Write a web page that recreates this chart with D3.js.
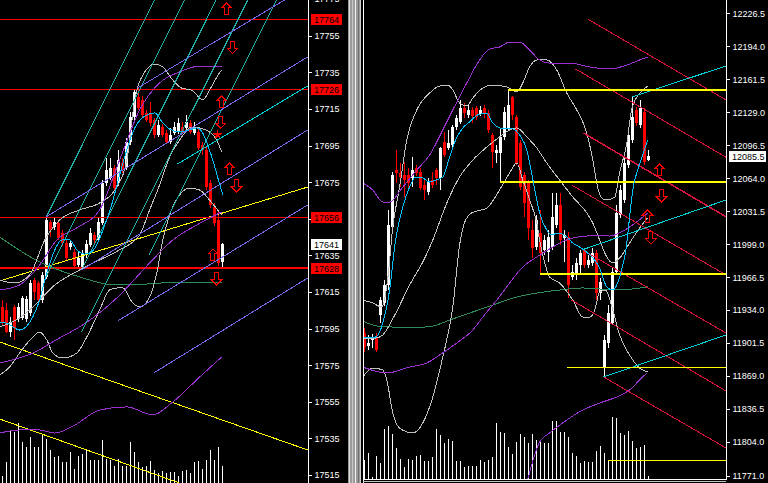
<!DOCTYPE html>
<html><head><meta charset="utf-8">
<script src="https://cdn.jsdelivr.net/npm/d3@7"></script>
<style>
html,body{margin:0;padding:0;background:#000;overflow:hidden}
svg{display:block;shape-rendering:crispEdges}
</style></head><body>
<svg id="c" width="768" height="483"></svg>
<script>
// ---------------- LEFT PANEL DATA ----------------
const leftOpen = [17606.9,17605.2,17593.2,17606.9,17600.3,17600.9,17600.3,17603.6,17621.6,17620.0,17610.7,17623.3,17653.3,17650.6,17652.7,17647.3,17641.8,17639.6,17636.9,17629.8,17628.7,17635.3,17640.7,17646.2,17643.5,17652.7,17674.6,17677.3,17682.8,17674.6,17685.5,17683.3,17697.0,17710.6,17721.5,17719.9,17712.8,17712.8,17709.0,17700.8,17705.2,17701.9,17697.0,17701.9,17702.4,17705.2,17704.6,17707.3,17701.9,17702.4,17695.3,17692.6,17674.6,17661.5,17654.4,17631.4];
const leftHigh = [17610.7,17609.1,17601.4,17608.0,17609.1,17612.9,17612.9,17621.6,17622.7,17621.1,17626.0,17655.5,17654.4,17655.5,17654.4,17648.9,17643.5,17643.5,17638.5,17636.9,17638.0,17643.5,17650.0,17647.8,17655.5,17676.2,17688.2,17688.2,17684.4,17692.6,17688.2,17699.2,17713.3,17725.4,17726.5,17722.1,17714.4,17718.8,17710.1,17709.0,17706.8,17703.5,17704.6,17707.9,17710.1,17707.9,17711.7,17709.0,17707.9,17704.6,17697.0,17694.2,17676.2,17663.7,17659.8,17641.8];
const leftLow = [17597.0,17592.7,17590.5,17588.9,17598.7,17599.8,17598.7,17602.0,17610.7,17609.6,17609.1,17622.2,17645.1,17648.9,17643.5,17640.2,17632.0,17638.0,17628.2,17628.2,17627.6,17633.6,17639.6,17641.3,17642.4,17651.7,17672.9,17676.2,17670.8,17672.9,17680.0,17681.7,17695.3,17709.0,17714.4,17710.1,17707.9,17705.7,17699.2,17699.7,17699.7,17695.9,17695.9,17700.8,17701.3,17701.3,17703.5,17701.3,17700.8,17692.6,17689.9,17670.8,17661.0,17651.1,17629.3,17628.0];
const leftClose = [17598.7,17593.2,17598.7,17595.4,17606.9,17611.8,17611.3,17620.0,17615.1,17610.7,17624.3,17654.4,17648.9,17653.3,17644.6,17641.8,17633.6,17641.8,17629.3,17633.6,17636.4,17641.3,17647.3,17643.5,17653.3,17674.6,17681.7,17682.8,17671.9,17687.1,17681.7,17697.0,17710.6,17724.3,17715.5,17711.7,17709.0,17707.3,17700.8,17706.3,17700.8,17697.0,17700.8,17705.2,17707.3,17702.4,17707.9,17702.4,17705.2,17693.7,17692.6,17672.4,17662.6,17652.7,17630.9,17641.0];
const leftVolume = [63,203,530,503,597,403,357,453,357,353,487,440,323,257,270,203,203,303,137,263,290,323,223,223,223,423,237,223,170,237,170,163,403,303,203,157,170,213,130,97,113,97,107,107,63,113,130,97,207,213,137,223,330,230,353,163];
const leftTicks = [17775,17755,17735,17715,17695,17675,17655,17635,17615,17595,17575,17555,17535,17515];
const leftLevels = [17764,17726,17656,17628];
const leftLast = 17641;

// indicator samples [bar, price]
const leftFastMA = [[-0.6,17598.6],[1.2,17598.0],[4.4,17594.2],[7.7,17601.3],[9.4,17610.6],[11.2,17625.4],[13.2,17638.0],[14.9,17643.4],[16.9,17643.4],[18.7,17638.0],[20.7,17635.7],[22.4,17636.8],[23.9,17641.7],[25.7,17651.6],[27.4,17662.5],[29.4,17678.9],[31.2,17692.6],[33.2,17704.6],[36.2,17711.7],[38.2,17712.8],[40.2,17707.3],[41.9,17704.0],[44.4,17702.4],[46.9,17703.5],[48.7,17704.6],[50.2,17701.8],[51.4,17695.3],[52.7,17687.1],[53.9,17677.8],[55.2,17668.0]];
const leftPurpleUp = [[-0.6,17616.1],[4.4,17618.8],[9.4,17629.7],[13.7,17643.4],[18.7,17650.0],[24.4,17659.8],[29.4,17687.1],[34.4,17714.4],[39.4,17729.2],[44.4,17735.2],[49.4,17738.4],[54.9,17737.9]];
const leftPurpleMid = [[-0.6,17576.2],[7.7,17581.6],[14.4,17589.9],[20.2,17597.0],[28.7,17611.7],[36.9,17630.8],[42.7,17643.4],[48.7,17651.6],[54.9,17658.7]];
const leftPurpleLow = [[-0.6,17537.9],[4.4,17539.6],[9.4,17539.6],[13.2,17537.9],[18.2,17542.3],[24.4,17550.5],[31.2,17552.2],[37.7,17547.8],[42.7,17554.9],[49.4,17568.5],[54.9,17579.5]];
const leftGreen = [[-0.6,17645.0],[9.4,17631.4],[19.4,17623.2],[28.2,17618.8],[36.9,17619.4],[43.7,17620.4],[54.9,17620.4]];
const leftGrayUp = [[-0.6,17621.5],[3.2,17619.9],[6.9,17624.3],[10.7,17643.4],[14.4,17654.3],[19.4,17659.8],[24.4,17663.6],[28.2,17670.7],[31.2,17687.1],[33.2,17719.9],[35.7,17735.2],[38.2,17739.5],[40.2,17737.9],[42.7,17730.8],[44.9,17726.4],[47.4,17725.3],[50.2,17719.9],[51.9,17725.3],[53.7,17732.4],[54.9,17736.3]];
const leftGrayMid = [[-0.6,17595.9],[4.4,17600.8],[7.7,17606.8],[13.2,17618.8],[19.4,17627.0],[24.4,17632.5],[29.4,17638.0],[34.4,17646.1],[36.9,17659.8],[39.4,17673.4],[41.9,17688.7],[44.4,17698.0],[47.4,17705.1],[49.4,17704.6],[51.9,17702.4],[53.7,17698.0],[54.9,17691.5]];
const leftGrayLow = [[-0.6,17569.6],[1.9,17574.0],[4.4,17581.6],[7.7,17590.4],[9.4,17593.1],[11.2,17588.8],[12.7,17581.6],[15.2,17578.9],[18.7,17581.6],[21.2,17590.4],[24.4,17605.1],[26.9,17616.1],[28.9,17617.2],[30.2,17617.2],[32.7,17609.0],[34.4,17606.8],[36.9,17612.2],[38.7,17625.4],[40.2,17643.4],[41.9,17657.0],[44.4,17668.0],[46.9,17671.8],[49.4,17670.7],[51.9,17665.2],[54.9,17657.0]];
// trend lines [[bar,price],[bar,price]]
const leftSeaLines = [[[11.1,17656.1],[39.4,17780]],[[10.8,17622.1],[46.9,17780]],[[20.1,17628.1],[54.8,17780]],[[19.9,17593.1],[62.7,17780]],[[36.8,17635.2],[69.9,17780]]];
const leftSlateLines = [[[33.9,17726.4],[76.4,17782.1]],[[11.1,17656.1],[76.4,17743.4]],[[19.9,17627.0],[76.4,17703.5]],[[28.9,17599.1],[76.4,17662.5]],[[37.9,17570.7],[76.4,17622.6]]];
const leftTurqLine = [[43.9,17684.9],[76.4,17727.5]];
const leftYellowLines = [[[-0.6,17621.0],[76.4,17672.3]],[[-0.6,17587.7],[76.4,17528.7]],[[-0.6,17545.6],[76.4,17485.7]]];
const leftArrowsUp = [[56.1,17769.6],[54.9,17718.8],[56.9,17682.2],[52.7,17635.2]];
const leftArrowsDown = [[57.6,17748.5],[54.7,17707.6],[58.6,17672.9],[53.6,17622.1]];
const leftStar = [53.9,17700.8];

// ---------------- RIGHT PANEL DATA ----------------
const rightOpen = [11911.4,11898.6,11904.5,11906.5,11929.2,11941.0,11958.7,12015.9,12072.1,12069.1,12067.1,12067.1,12064.2,12074.0,12070.1,12057.3,12050.4,12062.2,12072.1,12064.2,12099.7,12093.7,12096.7,12114.4,12119.4,12133.2,12126.3,12131.2,12133.2,12127.3,12133.2,12128.2,12106.6,12088.8,12088.8,12104.6,12113.5,12144.0,12124.3,12098.7,12067.1,12060.2,12012.9,11996.2,12010.0,11993.2,11991.3,11996.2,12017.9,12037.6,12005.1,12006.0,11966.6,11970.6,11978.4,11993.2,11978.4,11980.4,11990.3,11950.8,11876.9,11901.6,11921.3,11971.5,12027.7,12042.5,12077.0,12101.6,12131.2,12116.4,12129.2,12081.9];
const rightHigh = [11916.4,11909.5,11910.4,11911.4,11946.9,11963.7,12032.7,12070.1,12091.8,12078.9,12079.9,12074.0,12084.9,12077.0,12074.0,12062.2,12064.2,12070.1,12074.0,12094.7,12109.5,12111.5,12116.4,12126.3,12141.1,12138.1,12136.1,12134.1,12135.1,12135.1,12136.1,12131.2,12108.5,12096.7,12113.5,12134.1,12150.9,12145.0,12126.3,12101.6,12070.1,12062.2,12022.8,12027.7,12032.7,12008.0,12012.9,12049.4,12049.4,12049.4,12012.9,12011.0,11978.4,11985.3,11993.2,11995.2,11988.3,11995.2,11993.2,11965.6,11909.5,11939.0,11975.5,12037.6,12057.3,12083.9,12111.5,12144.0,12134.1,12141.1,12133.2,12091.8];
const rightLow = [11892.7,11894.7,11896.6,11892.7,11921.3,11938.0,11953.8,12014.9,12059.2,12055.3,12045.5,12052.4,12055.3,12066.2,12052.4,12042.5,12047.4,12054.3,12057.3,12052.4,12084.9,12091.8,12094.7,12111.5,12117.4,12123.3,12123.3,12118.4,12121.3,12125.3,12123.3,12108.5,12074.0,12078.9,12060.2,12101.6,12111.5,12121.3,12077.0,12052.4,12025.7,12003.1,11985.3,11993.2,11969.6,11988.3,11981.4,11993.2,12014.9,11998.2,11981.4,11945.9,11963.7,11963.7,11968.6,11975.5,11975.5,11977.5,11943.9,11943.9,11869.0,11896.6,11919.3,11968.6,12024.8,12039.5,12074.0,12098.7,12115.4,12113.5,12077.0,12080.9];
const rightClose = [11897.6,11901.6,11906.5,11894.7,11943.9,11958.7,12017.9,12067.1,12069.1,12065.2,12062.2,12059.2,12072.1,12069.1,12054.3,12052.4,12060.2,12057.3,12064.2,12093.7,12086.8,12098.7,12114.4,12123.3,12133.2,12128.2,12131.2,12125.3,12124.3,12131.2,12127.3,12111.5,12089.8,12091.8,12104.6,12129.2,12136.1,12126.3,12078.9,12055.3,12039.5,12014.9,11995.2,12022.8,11990.3,12003.1,12006.0,12025.7,12037.6,12003.1,12008.0,11958.7,11971.5,11980.4,11990.3,11978.4,11983.4,11990.3,11950.8,11961.7,11904.5,11931.1,11971.5,12029.7,12052.4,12078.9,12106.6,12124.3,12118.4,12133.2,12079.9,12085.5];
const rightVolume = [193,260,20,233,166,500,533,453,310,200,120,200,193,233,243,186,186,220,500,443,366,403,383,186,186,120,133,133,133,193,176,193,220,566,476,460,320,253,376,453,420,366,453,393,383,366,366,583,583,470,470,420,266,233,166,186,176,176,286,333,266,193,620,610,460,443,483,386,310,326,343,33];
const rightTicks = [12226.5,12194.0,12161.5,12129.0,12096.5,12064.0,12031.5,11999.0,11966.5,11934.0,11901.5,11869.0,11836.5,11804.0,11771.0];
const rightLast = 12085.5;

const rightFastMA = [[-0.3,11906.5],[2.9,11907.5],[4.7,11921.3],[6.4,11953.8],[7.9,12003.1],[9.7,12035.6],[11.4,12055.3],[12.9,12065.2],[14.7,12064.2],[16.4,12060.2],[17.9,12062.2],[19.7,12065.2],[21.4,12084.9],[22.9,12101.6],[24.7,12113.5],[26.4,12119.4],[28.4,12126.3],[30.7,12128.2],[32.2,12118.4],[33.9,12113.5],[35.7,12112.5],[37.2,12112.5],[38.9,12106.6],[40.7,12091.8],[41.9,12069.1],[42.7,12052.4],[43.9,12029.7],[45.7,12012.9],[46.9,12008.0],[48.4,12010.0],[50.7,12006.0],[52.2,12000.1],[53.9,11996.2],[55.9,11990.3],[58.9,11975.5],[60.7,11956.8],[62.2,11953.8],[63.9,11966.6],[65.7,12000.1],[66.4,12025.7],[67.2,12052.4],[68.4,12072.1],[69.7,12086.8],[70.9,12101.6]];
const rightGrayUp = [[-0.3,11943.9],[2.2,11941.0],[4.4,11937.1],[5.9,11963.7],[7.2,12015.9],[8.9,12055.3],[10.7,12101.6],[13.2,12131.2],[16.4,12147.9],[18.9,12154.8],[20.9,12155.8],[22.2,12150.9],[23.9,12138.1],[25.7,12135.1],[27.2,12143.0],[29.7,12152.9],[32.2,12155.8],[35.7,12153.9],[38.2,12148.9],[39.7,12157.8],[41.4,12173.6],[43.2,12180.5],[45.7,12180.5],[48.2,12170.6],[50.7,12147.9],[53.2,12131.2],[55.7,12108.5],[57.2,12081.9],[58.4,12055.3],[59.4,12044.5],[60.7,12042.5],[62.7,12045.5],[63.9,12069.1],[65.7,12098.7],[66.9,12131.2],[68.2,12144.0],[69.7,12150.9],[70.9,12154.8]];
const rightGrayMid = [[-0.3,11906.5],[2.9,11906.5],[4.7,11909.5],[7.7,11929.2],[11.4,11958.7],[15.2,11985.3],[17.2,12003.1],[20.7,12039.5],[23.9,12065.2],[27.2,12081.9],[30.7,12094.7],[33.9,12104.6],[36.4,12111.5],[38.2,12113.5],[40.7,12104.6],[43.2,12093.7],[45.7,12078.9],[48.9,12062.2],[52.2,12045.5],[55.7,12029.7],[57.2,12019.8],[58.9,12003.1],[60.7,11986.3],[62.2,11980.4],[63.9,11985.3],[66.4,12000.1],[68.9,12014.9],[70.9,12024.8]];
const rightGrayLow = [[-0.3,11868.1],[2.2,11876.9],[4.7,11875.0],[5.7,11865.1],[7.2,11832.6],[8.9,11817.8],[12.2,11812.9],[16.4,11838.5],[19.7,11887.8],[22.2,11937.1],[23.9,11998.2],[25.2,12020.8],[26.9,12029.7],[30.7,12034.6],[33.9,12052.4],[36.4,12069.1],[38.2,12078.9],[39.7,12062.2],[41.4,12042.5],[43.2,12019.8],[43.9,12003.1],[45.2,11980.4],[46.4,11966.6],[48.9,11960.7],[52.2,11943.9],[54.7,11927.2],[56.4,11927.2],[57.7,11934.1],[58.9,11951.8],[60.4,11953.8],[62.2,11934.1],[63.9,11909.5],[66.4,11889.7],[68.9,11876.9],[70.9,11873.0]];
const rightPurpleUp = [[-0.3,12059.2],[2.2,12052.4],[4.7,12040.5],[6.4,12040.5],[9.7,12055.3],[13.2,12072.1],[16.4,12086.8],[19.7,12111.5],[22.2,12131.2],[25.7,12157.8],[28.9,12180.5],[31.4,12191.3],[33.9,12193.3],[36.4,12198.2],[38.9,12198.2],[41.4,12190.3],[43.9,12180.5],[46.4,12177.5],[51.4,12177.5],[56.4,12173.6],[61.4,12171.6],[65.7,12175.5],[68.9,12180.5],[70.9,12183.4]];
const rightPurpleMid = [[-0.3,11877.9],[5.7,11872.0],[11.4,11877.9],[15.7,11881.9],[18.9,11889.7],[23.2,11901.6],[27.2,11914.4],[29.7,11927.2],[33.2,11943.9],[36.4,11960.7],[39.7,11976.5],[43.2,11986.3],[47.2,11996.2],[48.9,12000.1],[52.2,12005.1],[55.7,12007.0],[58.9,12008.0],[61.4,12007.0],[66.4,12015.9],[69.7,12025.7],[70.9,12029.7]];
const rightPurpleLow = [[40.9,11766.6],[43.9,11804.0],[46.4,11812.9],[50.7,11825.7],[54.7,11835.5],[58.9,11842.4],[63.2,11848.4],[66.4,11855.2],[68.9,11865.1],[70.7,11872.0]];
const rightGreen = [[-0.3,11923.3],[3.2,11918.3],[7.2,11917.3],[11.4,11916.4],[17.2,11918.3],[21.4,11924.2],[26.4,11931.1],[32.2,11939.0],[38.2,11946.9],[43.2,11950.8],[48.9,11953.8],[54.7,11955.8],[63.2,11953.8],[70.9,11956.8]];
const rightCrimsonLines = [[[55.9,12220.9],[90.5,12141.1]],[[52.9,12171.6],[90.5,12084.6]],[[54.9,12108.5],[90.5,12026.0]],[[51.9,12057.3],[90.5,11968.6]],[[54.7,11993.2],[90.5,11911.4]],[[51.9,11943.9],[90.5,11854.3]],[[59.9,11868.1],[90.5,11798.1]]];
const rightTurqLines = [[[66.9,12144.0],[90.5,12174.6]],[[54.4,11993.2],[90.5,12042.5]],[[59.9,11868.1],[90.5,11909.5]]];
const rightYellowLevels = [[36,12150.9,2],[34,12060.2,2],[44,11969.6,2],[50.85,11877.9,1],[60.9,11786.3,1]];
const rightArrowsUp = [[73.9,12072.1],[70.9,12026.7]];
const rightArrowsDown = [[74.4,12046.5],[71.7,12005.1]];

// ---------------- DRAWING ----------------
const svg = d3.select('#c');
svg.append('rect').attr('width',768).attr('height',483).attr('fill','#000');
const defs = svg.append('defs');
defs.append('clipPath').attr('id','clipL').append('rect').attr('x',0).attr('y',0).attr('width',308).attr('height',483);
defs.append('clipPath').attr('id','clipR').append('rect').attr('x',364).attr('y',0).attr('width',362).attr('height',479);

const xL = d3.scaleLinear().domain([0,55]).range([2,222]);
const yL = d3.scaleLinear().domain([17515,17755]).range([475,35.7]);
const xR = d3.scaleLinear().domain([0,71]).range([364,648]);
const yR = d3.scaleLinear().domain([11771,12226.5]).range([475.5,13.3]);
const vL = d3.scaleLinear().domain([0,1000]).range([482.5,382.5]);
const vR = d3.scaleLinear().domain([0,1000]).range([479.3,379.3]);
const GRAY = '#c0c0c0';

function path(g, pts, x, y, color, w, smooth){
  const ln = d3.line().x(d=>x(d[0])).y(d=>y(d[1]));
  if(smooth) ln.curve(d3.curveMonotoneX);
  g.append('path').attr('d', ln(pts)).attr('fill','none').attr('stroke',color).attr('stroke-width',w||1);
}
function candles(g, O,H,L,C, x, y){
  O.forEach((o,i)=>{
    const c=C[i], up=c>=o, col=up?'#ffffff':'#ff0000';
    const cx=Math.round(x(i));
    g.append('rect').attr('x',cx).attr('y',y(H[i])).attr('width',1).attr('height',Math.max(1,y(L[i])-y(H[i]))).attr('fill',col);
    const top=Math.round(y(Math.max(o,c))), bot=Math.round(y(Math.min(o,c)));
    g.append('rect').attr('x',cx-1).attr('y',top).attr('width',3).attr('height',Math.max(1,bot-top)).attr('fill',col);
  });
}
function volumes(g, V, x, v){
  V.forEach((d,i)=>{
    const cx=Math.round(x(i));
    g.append('rect').attr('x',cx).attr('y',v(d)).attr('width',1).attr('height',v(0)-v(d)).attr('fill','#ffffff');
  });
}
function arrow(g, cx, cy, up){
  const s = up?1:-1;
  const p = [[0,-6],[5,-1],[2,-1],[2,6],[-2,6],[-2,-1],[-5,-1]].map(d=>[cx+d[0], cy+d[1]*s]);
  g.append('path').attr('d','M'+p.join('L')+'Z').attr('fill','none').attr('stroke','#ff0000').attr('stroke-width',1);
}

// ---- left panel
const gL = svg.append('g').attr('clip-path','url(#clipL)');
candles(gL, leftOpen, leftHigh, leftLow, leftClose, xL, yL);
volumes(gL, leftVolume, xL, vL);
leftYellowLines.forEach(l=>path(gL,l,xL,yL,'#ffff00',1));
leftLevels.forEach((p,k)=>gL.append('rect').attr('x',0).attr('width',308).attr('y',Math.round(yL(p))-(k===3?1:0)).attr('height',k===3?2:1).attr('fill','#ff0000'));
path(gL,leftGreen,xL,yL,'#2e8b57',1,true);
path(gL,leftGrayUp,xL,yL,GRAY,1,true);
path(gL,leftGrayMid,xL,yL,GRAY,1,true);
path(gL,leftGrayLow,xL,yL,GRAY,1,true);
path(gL,leftPurpleUp,xL,yL,'#9932cc',1,true);
path(gL,leftPurpleMid,xL,yL,'#9932cc',1,true);
path(gL,leftPurpleLow,xL,yL,'#9932cc',1,true);
leftSeaLines.forEach(l=>path(gL,l,xL,yL,'#20b2aa',1));
leftSlateLines.forEach(l=>path(gL,l,xL,yL,'#7b68ee',1));
path(gL,leftTurqLine,xL,yL,'#00ced1',1);
path(gL,leftFastMA,xL,yL,'#00bfff',1,true);
leftArrowsUp.forEach(d=>arrow(gL,xL(d[0]),yL(d[1]),true));
leftArrowsDown.forEach(d=>arrow(gL,xL(d[0]),yL(d[1]),false));
gL.append('path').attr('d',d3.symbol(d3.symbolStar,28)()).attr('transform',`translate(${xL(leftStar[0])},${yL(leftStar[1])})`).attr('fill','#ff0000');

// left axis
svg.append('rect').attr('x',308).attr('y',0).attr('width',1).attr('height',483).attr('fill','#ffffff');
const axL = svg.append('g').attr('transform','translate(308.5,0)')
  .call(d3.axisRight(yL).tickValues(leftTicks).tickFormat(d3.format('d')).tickSize(3).tickPadding(3).tickSizeOuter(0));
axL.select('.domain').remove();
axL.selectAll('line').attr('stroke','#fff');
axL.selectAll('text').attr('fill','#fff').attr('font-family','Liberation Sans, Arial, sans-serif').attr('font-size',9);

function priceBox(x, y, w, txt, bg, fg){
  svg.append('rect').attr('x',x).attr('y',Math.round(y)-5).attr('width',w).attr('height',11).attr('fill',bg);
  svg.append('text').attr('x',x+3).attr('y',Math.round(y)+3.5).attr('fill',fg).attr('font-family','Liberation Sans, Arial, sans-serif').attr('font-size',9).text(txt);
}
leftLevels.forEach(p=>priceBox(311, yL(p), 31, d3.format('d')(p), '#ff0000', '#000000'));
priceBox(311, yL(leftLast), 31, d3.format('d')(leftLast), '#ffffff', '#000000');

// separator
svg.append('rect').attr('x',348).attr('y',0).attr('width',13).attr('height',483).attr('fill','#9a9a9a');
[[349,'#e0e0e0'],[352,'#c8c8c8'],[355,'#f0f0f0'],[358,'#707070'],[360,'#d0d0d0']].forEach(d=>svg.append('rect').attr('x',d[0]).attr('y',0).attr('width',1).attr('height',483).attr('fill',d[1]));
svg.append('rect').attr('x',363).attr('y',0).attr('width',1).attr('height',483).attr('fill','#ffffff');

// ---- right panel
const gR = svg.append('g').attr('clip-path','url(#clipR)');
candles(gR, rightOpen, rightHigh, rightLow, rightClose, xR, yR);
volumes(gR, rightVolume, xR, vR);
path(gR,rightGreen,xR,yR,'#2e8b57',1,true);
path(gR,rightGrayUp,xR,yR,GRAY,1,true);
path(gR,rightGrayMid,xR,yR,GRAY,1,true);
path(gR,rightGrayLow,xR,yR,GRAY,1,true);
path(gR,rightPurpleUp,xR,yR,'#9932cc',1,true);
path(gR,rightPurpleMid,xR,yR,'#9932cc',1,true);
path(gR,rightPurpleLow,xR,yR,'#9932cc',1,true);
rightCrimsonLines.forEach((l,k)=>path(gR,l,xR,yR,'#dc143c',k===2?1.5:1));
rightTurqLines.forEach(l=>path(gR,l,xR,yR,'#00ced1',1));
rightYellowLevels.forEach(d=>gR.append('rect').attr('x',Math.round(xR(d[0]))).attr('width',726-Math.round(xR(d[0]))).attr('y',Math.round(yR(d[1]))-(d[2]>1?1:0)).attr('height',d[2]).attr('fill','#ffff00'));
path(gR,rightFastMA,xR,yR,'#00bfff',1,true);
rightArrowsUp.forEach(d=>arrow(gR,xR(d[0]),yR(d[1]),true));
rightArrowsDown.forEach(d=>arrow(gR,xR(d[0]),yR(d[1]),false));

// bottom lines
svg.append('rect').attr('x',363).attr('y',479).attr('width',363).attr('height',1).attr('fill','#ffffff');
svg.append('rect').attr('x',363).attr('y',481).attr('width',363).attr('height',1).attr('fill','#c0c0c0');

// right axis
svg.append('rect').attr('x',726).attr('y',0).attr('width',1).attr('height',480).attr('fill','#ffffff');
const axR = svg.append('g').attr('transform','translate(726.5,0)')
  .call(d3.axisRight(yR).tickValues(rightTicks).tickFormat(d3.format('.1f')).tickSize(3).tickPadding(3).tickSizeOuter(0));
axR.select('.domain').remove();
axR.selectAll('line').attr('stroke','#fff');
axR.selectAll('text').attr('fill','#fff').attr('font-family','Liberation Sans, Arial, sans-serif').attr('font-size',9);
priceBox(729, yR(rightLast), 37, d3.format('.1f')(rightLast), '#ffffff', '#000000');
</script></body></html>
